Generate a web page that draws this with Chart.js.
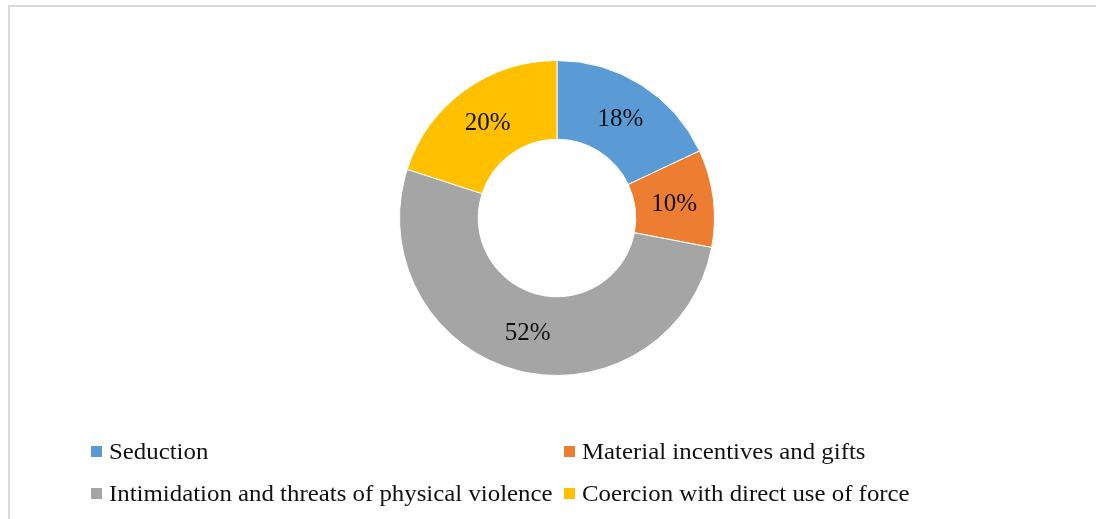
<!DOCTYPE html>
<html lang="en">
<head>
    <meta charset="UTF-8">
    <title>Coercion methods</title>
    <script src="https://cdn.jsdelivr.net/npm/chart.js"></script>
    <style>
        html, body { margin: 0; padding: 0; background: #fff; }
        body { width: 1096px; height: 519px; position: relative; overflow: hidden; }
        .frame {
            position: absolute; left: 8px; top: 5px; right: -10px; bottom: -10px;
            border-top: 2px solid #d9d9d9; border-left: 2px solid #d9d9d9;
        }
        #chartWrap { position: absolute; left: 0; top: 0; width: 1096px; height: 519px; }
        .legend-item {
            position: absolute; height: 24px; display: flex; align-items: center;
            font-family: "Liberation Serif", "Times New Roman", serif; font-size: 24px;
            color: #111; white-space: nowrap;
        }
        .legend-item .box { width: 11px; height: 11px; margin-right: 7px; flex: none; }
        .legend-item .txt { display: inline-block; transform: scaleX(1.035); transform-origin: left center; }
    </style>
</head>
<body>
    <div class="frame"></div>
    <div id="chartWrap"><canvas id="donut"></canvas></div>
    <div id="legend"></div>

    <script>
        // Data
        const categories = [
            'Seduction',
            'Material incentives and gifts',
            'Intimidation and threats of physical violence',
            'Coercion with direct use of force'
        ];
        const shares = [18, 10, 52, 20];
        const colors = ['#5B9BD5', '#ED7D31', '#A5A5A5', '#FFC000'];

        // Percent labels in the middle of each ring segment
        const sliceLabels = {
            id: 'sliceLabels',
            afterDatasetsDraw(chart) {
                const ctx = chart.ctx;
                const meta = chart.getDatasetMeta(0);
                ctx.save();
                ctx.font = '25px "Liberation Serif", "Times New Roman", serif';
                ctx.fillStyle = '#111';
                ctx.textAlign = 'center';
                ctx.textBaseline = 'middle';
                meta.data.forEach((arc, i) => {
                    const p = arc.tooltipPosition();
                    ctx.fillText(shares[i] + '%', p.x, p.y + 1);
                });
                ctx.restore();
            }
        };

        new Chart(document.getElementById('donut'), {
            type: 'doughnut',
            data: {
                labels: categories,
                datasets: [{
                    data: shares,
                    backgroundColor: colors,
                    borderColor: '#ffffff',
                    borderWidth: 1
                }]
            },
            options: {
                responsive: true,
                maintainAspectRatio: false,
                animation: false,
                cutout: '50%',
                layout: { padding: { left: 18, right: 0, top: 60, bottom: 143 } },
                plugins: {
                    legend: { display: false },
                    tooltip: { enabled: false }
                }
            },
            plugins: [sliceLabels]
        });

        // Legend: two columns, two rows like the original
        const legendPos = [
            { x: 91, y: 439 }, { x: 564, y: 439 },
            { x: 91, y: 481 }, { x: 564, y: 481 }
        ];
        const legend = document.getElementById('legend');
        categories.forEach((name, i) => {
            const item = document.createElement('div');
            item.className = 'legend-item';
            item.style.left = legendPos[i].x + 'px';
            item.style.top = legendPos[i].y + 'px';
            const box = document.createElement('span');
            box.className = 'box';
            box.style.background = colors[i];
            const txt = document.createElement('span');
            txt.className = 'txt';
            txt.textContent = name;
            item.appendChild(box);
            item.appendChild(txt);
            legend.appendChild(item);
        });
    </script>
</body>
</html>
